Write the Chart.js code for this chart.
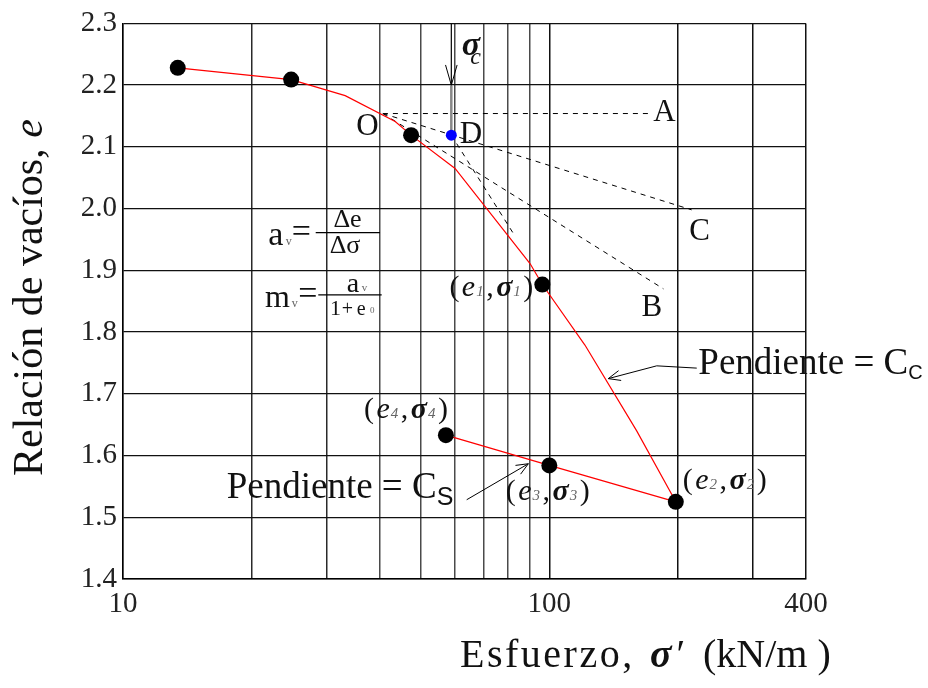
<!DOCTYPE html>
<html>
<head>
<meta charset="utf-8">
<script src="https://cdn.jsdelivr.net/npm/chart.js@4/dist/chart.umd.min.js"></script>
<style>
  html, body { margin: 0; padding: 0; background: #fff; }
  #wrap { width: 928px; height: 688px; }
</style>
</head>
<body>
<div id="wrap"><canvas id="c" width="928" height="688"></canvas></div>
<script>
// Axis ticks
const xTicks = [10, 20, 30, 40, 50, 60, 70, 80, 90, 100, 200, 300, 400];
const xTickLabels = { 10: '10', 100: '100', 400: '400' };
const yTicks = [1.4, 1.5, 1.6, 1.7, 1.8, 1.9, 2.0, 2.1, 2.2, 2.3];

// Loading branch (virgin compression curve), sigma' in kN/m2 and void ratio e
const loadSigma = [13.44, 24.8, 33.2, 43.5, 47.4, 60.1, 90.1, 96.3, 121.2, 160.3, 198];
const loadE     = [2.228, 2.209, 2.183, 2.141, 2.119, 2.065, 1.911, 1.877, 1.779, 1.640, 1.525];

// Unloading branch (swelling)
const unloadSigma = [57.2, 100, 198];
const unloadE     = [1.633, 1.584, 1.525];

// Measured test points
const testSigma = [13.44, 24.8, 47.4, 96.3, 198, 100, 57.2];
const testE     = [2.228, 2.209, 2.119, 1.877, 1.525, 1.584, 1.633];

// Casagrande construction: point O, point D (preconsolidation) and line ends A, B, C
const pointO = [40.7, 2.154];
const pointD = [58.9, 2.119];
const endA = [170.4, 2.154];
const endB = [185.2, 1.870];
const endC = [215.7, 1.998];
const endSteep = [82.3, 1.960];

const pts = (xs, ys) => xs.map((x, i) => ({ x, y: ys[i] }));
const seg = (a, b) => [{ x: a[0], y: a[1] }, { x: b[0], y: b[1] }];

const SERIF = 'Liberation Serif';
const SANS = 'Liberation Sans';
const INK = '#111';
const SUB = '#666';

const dashed = (data) => ({
  data, showLine: true, borderColor: '#000', borderWidth: 1, borderDash: [5, 5],
  pointRadius: 0, fill: false
});

function openHead(ctx, tx, ty, fx, fy, len, spread) {
  const a = Math.atan2(ty - fy, tx - fx);
  ctx.beginPath();
  ctx.moveTo(tx - len * Math.cos(a - spread), ty - len * Math.sin(a - spread));
  ctx.lineTo(tx, ty);
  ctx.lineTo(tx - len * Math.cos(a + spread), ty - len * Math.sin(a + spread));
  ctx.stroke();
}

// draw a run of text pieces: [text, font, color, dy, gapAfter]
function runs(ctx, x, y, parts, align) {
  ctx.textBaseline = 'alphabetic';
  ctx.textAlign = 'left';
  let total = 0;
  parts.forEach(p => { ctx.font = p[1]; total += ctx.measureText(p[0]).width + (p[4] || 0); });
  let cx = align === 'right' ? x - total : align === 'center' ? x - total / 2 : x;
  parts.forEach(p => {
    ctx.font = p[1];
    ctx.fillStyle = p[2] || INK;
    ctx.fillText(p[0], cx, y + (p[3] || 0));
    cx += ctx.measureText(p[0]).width + (p[4] || 0);
  });
}

function pairLabel(ctx, x, y, idx, align) {
  const f = 30, g = 2.5;
  runs(ctx, x, y, [
    ['(', `${f}px ${SERIF}`, INK, 0, g],
    ['e', `italic ${f}px ${SERIF}`, INK, 0, 1],
    [idx, `italic 15px ${SERIF}`, SUB, 0, g],
    [',', `${f}px ${SERIF}`, INK, 0, g],
    ['\u03c3', `bold italic ${f}px ${SERIF}`, INK, 0, 1],
    [idx, `italic 15px ${SERIF}`, SUB, 0, g],
    [')', `${f}px ${SERIF}`, INK, 0, 0]
  ], align);
}

const annotations = {
  id: 'annotations',
  afterDatasetsDraw(chart) {
    const ctx = chart.ctx;
    const xs = chart.scales.x, ys = chart.scales.y;
    const P = (s, e) => [xs.getPixelForValue(s), ys.getPixelForValue(e)];
    ctx.save();

    // sigma_c arrow head and label
    const [dx, tipY] = P(pointD[0], 2.2);
    ctx.strokeStyle = '#000'; ctx.lineWidth = 1;
    openHead(ctx, dx, tipY, dx, tipY - 30, 21, 0.28);
    const top = chart.chartArea.top;
    runs(ctx, dx + 10.5, top + 32, [['\u03c3', `bold italic 34px ${SERIF}`, INK, 0, 0]]);
    runs(ctx, dx + 19, top + 41, [['c', `italic 24px ${SERIF}`, INK, 0, 0]]);

    // Construction letters
    const letter = (t, anchor, ox, oy) => {
      const [x, y] = P(anchor[0], anchor[1]);
      runs(ctx, x + ox, y + oy, [[t, `31px ${SERIF}`, INK, 0, 0]], 'center');
    };
    letter('O', pointO, -15.5, 21);
    letter('D', pointD, 19.7, 8);
    letter('A', endA, 16.5, 7);
    letter('C', endC, 8, 30);
    letter('B', endB, -11.6, 27);

    // Point labels
    let q;
    q = P(96.3, 1.877);  pairLabel(ctx, q[0] - 9, q[1] + 11, '1', 'right');
    q = P(198, 1.525);   pairLabel(ctx, q[0] + 7, q[1] - 13, '2', 'left');
    q = P(100, 1.584);   pairLabel(ctx, q[0] - 43.6, q[1] + 35, '3', 'left');
    q = P(57.2, 1.633);  pairLabel(ctx, q[0] + 2, q[1] - 17, '4', 'right');

    // a_v = Δe / Δσ
    let [fx, fy] = P(21.92, 1.9412);
    runs(ctx, fx, fy, [['a', `34px ${SERIF}`, INK, 0, 0]]);
    runs(ctx, fx + 17.5, fy, [['v', `12px ${SERIF}`, SUB, 0, 0]]);
    runs(ctx, fx + 23.5, fy - 2.5, [['=', `34px ${SERIF}`, INK, 0, 0]]);
    ctx.strokeStyle = '#000'; ctx.lineWidth = 1.3;
    ctx.beginPath(); ctx.moveTo(fx + 47.4, fy - 12.3); ctx.lineTo(fx + 111.7, fy - 12.3); ctx.stroke();
    runs(ctx, fx + 79.2, fy - 18.3, [['\u0394e', `26px ${SERIF}`, INK, 0, 0]], 'center');
    runs(ctx, fx + 76.7, fy + 8.3, [['\u0394\u03c3', `26px ${SERIF}`, INK, 0, 0]], 'center');

    // m_v = a_v / (1 + e0)
    [fx, fy] = P(21.53, 1.8413);
    runs(ctx, fx, fy, [['m', `32px ${SERIF}`, INK, 0, 0]]);
    runs(ctx, fx + 26.7, fy, [['v', `12px ${SERIF}`, SUB, 0, 0]]);
    runs(ctx, fx + 33.3, fy - 2.7, [['=', `34px ${SERIF}`, INK, 0, 0]]);
    ctx.beginPath(); ctx.moveTo(fx + 53.3, fy - 11.7); ctx.lineTo(fx + 116.7, fy - 11.7); ctx.stroke();
    runs(ctx, fx + 81.7, fy - 15, [['a', `28px ${SERIF}`, INK, 0, 0]]);
    runs(ctx, fx + 96.7, fy - 15.5, [['v', `11px ${SERIF}`, SUB, 0, 0]]);
    runs(ctx, fx + 65, fy + 8.3, [['1', `22px ${SERIF}`, INK, 0, 0]]);
    runs(ctx, fx + 76.7, fy + 8.3, [['+', `20px ${SERIF}`, INK, 0, 0]]);
    runs(ctx, fx + 91.7, fy + 8.3, [['e', `20px ${SERIF}`, INK, 0, 0]]);
    runs(ctx, fx + 105, fy + 6.5, [['0', `9px ${SERIF}`, SUB, 0, 0]]);

    // Pendiente = Cs with arrow
    ctx.strokeStyle = '#000'; ctx.lineWidth = 1;
    q = P(17.51, 1.5311);
    runs(ctx, q[0], q[1], [['Pendiente = C', `37px ${SERIF}`, INK, 0, 0], ['S', `25px ${SANS}`, INK, 6.7, 0]]);
    let t1 = P(64.0, 1.5284), t2 = P(89.3, 1.5867);
    ctx.beginPath(); ctx.moveTo(t1[0], t1[1]); ctx.lineTo(t2[0], t2[1]); ctx.stroke();
    openHead(ctx, t2[0], t2[1], t1[0], t1[1], 13, 0.4);

    // Pendiente = Cc with bent arrow
    q = P(223.6, 1.7323);
    runs(ctx, q[0], q[1], [['Pendiente = C', `37px ${SERIF}`, INK, 0, 0], ['C', `20px ${SANS}`, INK, 5.3, 0]]);
    const c1 = P(221.7, 1.7416), c2 = P(178.6, 1.7453), c3 = P(137.5, 1.7246);
    ctx.beginPath(); ctx.moveTo(c1[0], c1[1]); ctx.lineTo(c2[0], c2[1]); ctx.lineTo(c3[0], c3[1]); ctx.stroke();
    openHead(ctx, c3[0], c3[1], c2[0], c2[1], 13, 0.4);

    ctx.restore();
  },
  afterDraw(chart) {
    const ctx = chart.ctx;
    ctx.save();
    // Y axis title
    ctx.translate(41.7, 476);
    ctx.rotate(-Math.PI / 2);
    runs(ctx, 0, 0, [['Relaci\u00f3n de vac\u00edos, ', `42px ${SERIF}`, INK, 0, 0], ['e', `italic 42px ${SERIF}`, INK, 0, 0]]);
    ctx.restore();
    ctx.save();
    // X axis title
    const ca = chart.chartArea;
    ctx.letterSpacing = '2.5px';
    runs(ctx, ca.left + 337, ca.bottom + 88, [['Esfuerzo,', `40px ${SERIF}`, INK, 0, 0]]);
    ctx.letterSpacing = '0px';
    runs(ctx, ca.left + 527, ca.bottom + 88, [['\u03c3', `bold italic 40px ${SERIF}`, INK, 0, 0]]);
    runs(ctx, ca.left + 551, ca.bottom + 88, [['\u2032', `italic 40px ${SERIF}`, INK, 0, 0]]);
    runs(ctx, ca.left + 580, ca.bottom + 88, [['(kN/m )', `40px ${SERIF}`, INK, 0, 0]]);
    ctx.restore();
  }
};

const xGridColor = (v) => (v === 20 || v === 30) ? '#2a2a2a' : (v >= 100 ? '#111' : '#4a4a4a');

new Chart(document.getElementById('c'), {
  type: 'scatter',
  data: {
    datasets: [
      { data: pts(testSigma, testE), backgroundColor: '#000', borderWidth: 0, pointRadius: 8, showLine: false },
      { data: [{ x: pointD[0], y: pointD[1] }], backgroundColor: '#0000ff', borderWidth: 0, pointRadius: 5.5, showLine: false },
      { data: pts(loadSigma, loadE), showLine: true, borderColor: '#ff0000', borderWidth: 1.2, pointRadius: 0 },
      { data: pts(unloadSigma, unloadE), showLine: true, borderColor: '#ff0000', borderWidth: 1.2, pointRadius: 0 },
      dashed(seg(pointO, endA)),
      dashed(seg(pointO, endC)),
      dashed(seg(pointO, endB)),
      dashed(seg(pointD, endSteep)),
      { data: seg([pointD[0], 2.3], [pointD[0], 2.2]), showLine: true, borderColor: '#000', borderWidth: 1.2, pointRadius: 0 },
      { data: seg([pointD[0], 2.2], pointD), showLine: true, borderColor: '#888', borderWidth: 2.5, pointRadius: 0 }
    ]
  },
  options: {
    responsive: false,
    animation: false,
    devicePixelRatio: 1,
    layout: { padding: { left: 0, top: 23, right: 122, bottom: 0 } },
    plugins: { legend: { display: false }, tooltip: { enabled: false } },
    scales: {
      x: {
        type: 'logarithmic',
        min: 10, max: 400,
        afterBuildTicks: (s) => { s.ticks = xTicks.map(v => ({ value: v })); },
        afterFit: (s) => { s.height = 109; },
        ticks: {
          autoSkip: false, maxRotation: 0, padding: 8, color: '#222',
          font: { family: SERIF, size: 29 },
          callback: (v) => xTickLabels[v] || ''
        },
        grid: {
          drawTicks: false, lineWidth: 1.5,
          color: (c) => xGridColor(c.tick ? c.tick.value : 0)
        },
        border: { color: '#000', width: 1.5 }
      },
      y: {
        type: 'linear',
        min: 1.4, max: 2.3,
        afterBuildTicks: (s) => { s.ticks = yTicks.map(v => ({ value: v })); },
        afterFit: (s) => { s.width = 123; },
        ticks: {
          padding: 6, color: '#222',
          font: { family: SERIF, size: 29 },
          callback: (v) => Number(v).toFixed(1)
        },
        grid: { drawTicks: false, lineWidth: 1.3, color: '#111' },
        border: { color: '#000', width: 1.5 }
      }
    }
  },
  plugins: [annotations]
});
</script>
</body>
</html>
